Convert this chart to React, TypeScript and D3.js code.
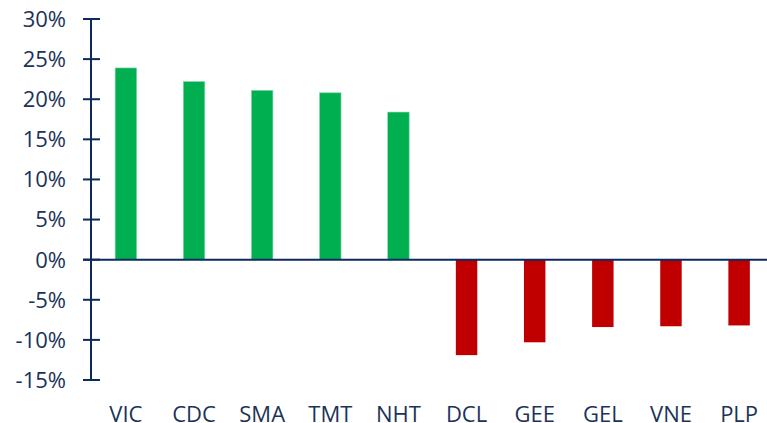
import React from "react";
import * as d3 from "d3";

const categories = ["VIC", "CDC", "SMA", "TMT", "NHT", "DCL", "GEE", "GEL", "VNE", "PLP"];
const values = [23.9, 22.2, 21.1, 20.8, 18.4, -11.9, -10.3, -8.4, -8.3, -8.2];
const yTicks = [-15, -10, -5, 0, 5, 10, 15, 20, 25, 30];

const W = 767;
const H = 423;
const NAVY = "#0c2a5b";
const TEXT = "#1b3358";

export default function App() {
  const x = d3.scaleBand<string>().domain(categories).range([92, 773]).paddingInner(0.685).paddingOuter(0.34);
  const y = d3.scaleLinear().domain([-15, 30]).range([380, 19]);
  const axisX = 91;
  const font = "'Open Sans', 'Noto Sans', sans-serif";
  return (
    <svg width={W} height={H} style={{ position: "absolute", left: 0, top: 0 }} xmlns="http://www.w3.org/2000/svg">
      <rect width={W} height={H} fill="#fff" />
      {categories.map((c, i) => {
        const v = values[i];
        const y0 = y(0);
        const y1 = y(v);
        return (
          <rect
            key={c}
            x={x(c)}
            y={Math.min(y0, y1)}
            width={x.bandwidth()}
            height={Math.abs(y1 - y0)}
            fill={v >= 0 ? "#00b050" : "#c00000"}
            stroke={v >= 0 ? "#7fd8a7" : "none"}
            strokeWidth={0.6}
          />
        );
      })}
      <line x1={axisX} x2={axisX} y1={y(30)} y2={y(-15)} stroke={NAVY} strokeWidth={2} />
      {yTicks.map((t) => (
        <g key={t}>
          <line x1={83} x2={100} y1={y(t)} y2={y(t)} stroke={NAVY} strokeWidth={2} />
          <text x={66} y={y(t)} dy="0.36em" textAnchor="end" fontFamily={font} fontSize={22} fill={TEXT}>
            {t}%
          </text>
        </g>
      ))}
      <line x1={83} x2={W} y1={y(0)} y2={y(0)} stroke={NAVY} strokeWidth={2} />
      {categories.map((c) => (
        <text key={c} x={(x(c) ?? 0) + x.bandwidth() / 2} y={422} textAnchor="middle" fontFamily={font} fontSize={22} fill={TEXT}>
          {c}
        </text>
      ))}
    </svg>
  );
}
